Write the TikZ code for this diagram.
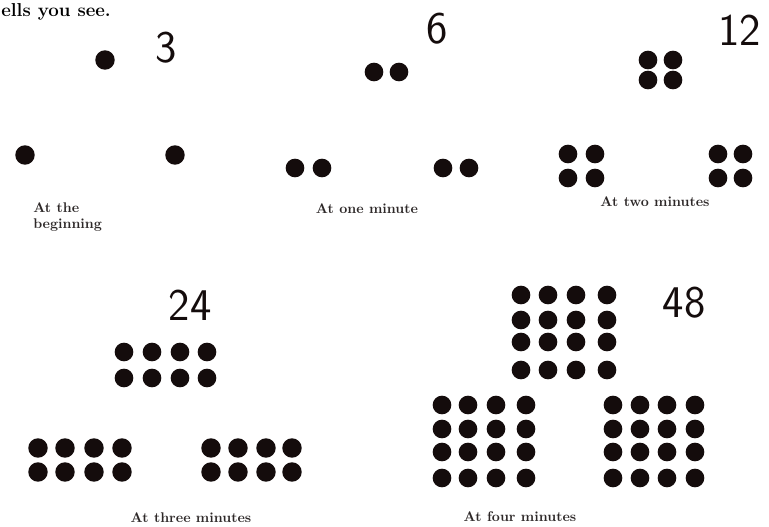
\documentclass[tikz,border=0pt]{standalone}
\usepackage{tikz}
\usetikzlibrary{positioning}
\definecolor{ink}{RGB}{20,12,12}
\definecolor{capink}{RGB}{45,40,40}

\begin{document}
\begin{tikzpicture}[x=0.75pt, y=-0.75pt,
  pip/.style={fill=ink},
  count/.style={font=\sffamily\fontsize{34}{34}\selectfont, inner sep=0pt, text=ink},
  stagecap/.style={font=\bfseries\fontsize{10.5}{12}\selectfont, inner sep=0pt, text=capink},
  lead/.style={font=\bfseries\fontsize{14}{14}\selectfont, inner sep=0pt, anchor=base west}]
\useasboundingbox (0,0) rectangle (769,526);
\clip (0,0) rectangle (769,526);
\node[lead] (lead) at (1,16) {ells you see.};
% at the beginning
\fill[pip] (105,60) circle[radius=7.3pt];
\foreach \x in {25,175}
  \fill[pip] (\x,155) circle[radius=7.3pt];
\node[count] (n3) at (166,48) {3};
\node[stagecap, align=left, anchor=north west] (beg) at (33,202) {At the\\beginning};
% at one minute
\foreach \x in {374,399}
  \fill[pip] (\x,72) circle[radius=7pt];
\foreach \x in {295,322,443,469}
  \fill[pip] (\x,168) circle[radius=7pt];
\node[count] (n6) at (437,29) {6};
\node[stagecap] (one) at (367,209) {At one minute};
% at two minutes
\foreach \x in {648,673}
  \foreach \y in {60,80}
    \fill[pip] (\x,\y) circle[radius=7pt];
\foreach \x in {568,595,718,743}
  \foreach \y in {154,178}
    \fill[pip] (\x,\y) circle[radius=7pt];
\node[count, anchor=west] (n12) at (718,30) {12};
\node[stagecap] (two) at (655,202) {At two minutes};
% at three minutes
\foreach \x in {124,152,180,207}
  \foreach \y in {352,378}
    \fill[pip] (\x,\y) circle[radius=7pt];
\foreach \x in {38,65,94,122,211,238,266,292}
  \foreach \y in {448,472}
    \fill[pip] (\x,\y) circle[radius=7.3pt];
\node[count] (n24) at (190,305) {24};
\node[stagecap] (three) at (191,518) {At three minutes};
% at four minutes
\foreach \x in {521,548,576,607}
  \foreach \y in {295,320,342,370}
    \fill[pip] (\x,\y) circle[radius=7pt];
\foreach \x in {442,468,496,526,613,640,667,695}
  \foreach \y in {405,429,452,478}
    \fill[pip] (\x,\y) circle[radius=7pt];
\node[count] (n48) at (684,303) {48};
\node[stagecap] (four) at (520,517) {At four minutes};
\end{tikzpicture}
\end{document}
